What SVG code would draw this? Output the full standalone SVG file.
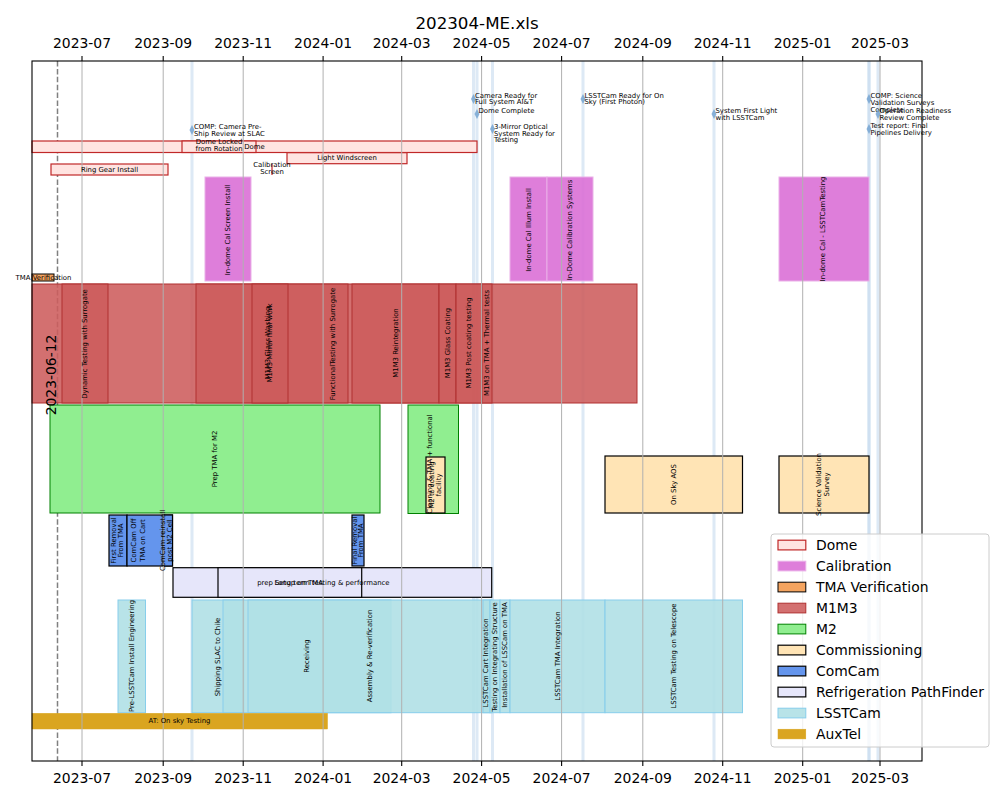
<svg xmlns="http://www.w3.org/2000/svg" width="1000" height="800" viewBox="0 0 1000 800">
<style>
text{font-family:"DejaVu Sans","Liberation Sans",sans-serif;fill:#000}
.tick{font-size:13.9px;text-anchor:middle}
.grid{stroke:#b0b0b0;stroke-width:1}
.msl{stroke:#c6dbef;stroke-width:3;stroke-opacity:0.6}
.s{font-size:6.9px;text-anchor:middle;dominant-baseline:central}
.m{font-size:6.9px;dominant-baseline:central}
.dome{fill:#ffe4e1;stroke:#c02828;stroke-width:1.2}
.cal{fill:#da70d6;fill-opacity:0.9;stroke:#eab0e8;stroke-width:1}
.tma{fill:#f4a460;stroke:#000;stroke-width:1}
.m1{fill:#cd5c5c;fill-opacity:0.88;stroke:#b03030;stroke-width:1}
.m2{fill:#90ee90;stroke:#008000;stroke-width:1}
.com{fill:#ffe4b5;stroke:#000;stroke-width:1.2}
.cc{fill:#6495ed;stroke:#000;stroke-width:1.2}
.ref{fill:#e6e6fa;stroke:#000;stroke-width:1.2}
.lc{fill:#b0e0e6;fill-opacity:0.9;stroke:#87ceeb;stroke-width:1}
.aux{fill:#daa520;stroke:#daa520;stroke-width:0.5}
.dia{fill:#6fa0d0;fill-opacity:0.8}
.leg{font-size:13.9px;dominant-baseline:central}
</style>
<rect width="1000" height="800" fill="#fff"/>
<text x="477" y="29" style="font-size:16.7px;text-anchor:middle">202304-ME.xls</text>

<g id="milestone-lines">
<line class="msl" x1="192" y1="61" x2="192" y2="761"/>
<line class="msl" x1="473.5" y1="61" x2="473.5" y2="761"/>
<line class="msl" x1="477" y1="61" x2="477" y2="761"/>
<line class="msl" x1="492.5" y1="61" x2="492.5" y2="761"/>
<line class="msl" x1="583" y1="61" x2="583" y2="761"/>
<line class="msl" x1="714" y1="61" x2="714" y2="761"/>
<line class="msl" x1="869" y1="61" x2="869" y2="761"/>
<line class="msl" x1="869" y1="61" x2="869" y2="761"/>
<line class="msl" x1="878" y1="61" x2="878" y2="761"/>
</g>
<line id="today-line" x1="57.5" y1="61" x2="57.5" y2="761" stroke="#808080" stroke-width="1.5" stroke-dasharray="5.5,2.4"/>

<g id="bars">
<g id="dome-bars">
<rect id="dome" class="dome" x="32" y="141" width="445" height="11.5"/>
<rect id="dome-locked" class="dome" x="182" y="141" width="74" height="11.5"/>
<rect id="light-windscreen" class="dome" x="287" y="152.7" width="120" height="11"/>
<rect id="ring-gear" class="dome" x="51" y="164" width="117" height="11"/>
<line id="calibration-screen" x1="272" y1="164" x2="272" y2="175" stroke="#c02828" stroke-width="1.2"/>
</g>
<g id="calibration-bars">
<rect id="cal-screen" class="cal" x="205" y="177" width="46" height="104"/>
<rect id="cal-illum" class="cal" x="510" y="177" width="37" height="104"/>
<rect id="cal-systems" class="cal" x="547" y="177" width="46" height="104"/>
<rect id="cal-lsstcam" class="cal" x="779" y="177" width="90" height="104"/>
</g>
<rect id="tma-verification" class="tma" x="32" y="274" width="22" height="7"/>
<g id="m1m3-bars">
<rect class="m1" x="32" y="284" width="605" height="119"/>
<rect class="m1" x="62" y="284" width="46" height="119"/>
<rect class="m1" x="196" y="284" width="152" height="119"/>
<rect class="m1" x="252" y="284" width="36" height="119"/>
<rect class="m1" x="352" y="284" width="87" height="119"/>
<rect class="m1" x="439" y="284" width="17" height="119"/>
<rect class="m1" x="456" y="284" width="26" height="119"/>
<rect class="m1" x="482" y="284" width="10" height="119"/>
</g>
<g id="m2-bars">
<rect class="m2" x="50" y="405" width="330" height="108"/>
<rect class="m2" x="408" y="405" width="50.5" height="108.5"/>
</g>
<g id="commissioning-bars">
<rect class="com" x="426" y="457" width="19" height="56"/>
<rect class="com" x="605" y="456" width="137.5" height="57"/>
<rect class="com" x="779" y="456" width="90" height="57"/>
</g>
<g id="comcam-bars">
<rect class="cc" x="109" y="515" width="18" height="51"/>
<rect class="cc" x="127" y="515" width="45.5" height="51"/>
<rect class="cc" x="163" y="515" width="9.5" height="51"/>
<rect class="cc" x="352" y="515" width="12" height="51"/>
</g>
<g id="refrigeration-bars">
<rect class="ref" x="173" y="567.7" width="318.7" height="29.6"/>
<rect class="ref" x="218" y="567.7" width="143.7" height="29.6"/>
</g>
<g id="lsstcam-bars">
<rect class="lc" x="118" y="600" width="27.5" height="112.7"/>
<rect class="lc" x="192" y="600" width="52" height="112.7"/>
<rect class="lc" x="223" y="600" width="168" height="112.7"/>
<rect class="lc" x="248" y="600" width="244" height="112.7"/>
<rect class="lc" x="483" y="600" width="7" height="112.7"/>
<rect class="lc" x="490" y="600" width="10" height="112.7"/>
<rect class="lc" x="500" y="600" width="10" height="112.7"/>
<rect class="lc" x="510" y="600" width="95" height="112.7"/>
<rect class="lc" x="605" y="600" width="137.5" height="112.7"/>
</g>
<rect id="auxtel" class="aux" x="32" y="713.3" width="295.5" height="15.7"/>
</g>

<g id="grid">
<line class="grid" x1="82" y1="61" x2="82" y2="761"/>
<line class="grid" x1="163.2" y1="61" x2="163.2" y2="761"/>
<line class="grid" x1="243.2" y1="61" x2="243.2" y2="761"/>
<line class="grid" x1="323.1" y1="61" x2="323.1" y2="761"/>
<line class="grid" x1="401.7" y1="61" x2="401.7" y2="761"/>
<line class="grid" x1="481.6" y1="61" x2="481.6" y2="761"/>
<line class="grid" x1="561.6" y1="61" x2="561.6" y2="761"/>
<line class="grid" x1="642.8" y1="61" x2="642.8" y2="761"/>
<line class="grid" x1="722.7" y1="61" x2="722.7" y2="761"/>
<line class="grid" x1="802.7" y1="61" x2="802.7" y2="761"/>
<line class="grid" x1="880" y1="61" x2="880" y2="761"/>
</g>

<g id="labels">
<g id="dome-labels">
<text class="s" x="254.5" y="146.8">Dome</text>
<text class="s" x="219" y="142.3">Dome Locked<tspan x="219" dy="7">from Rotation</tspan></text>
<text class="s" x="347" y="158.2">Light Windscreen</text>
<text class="s" x="109.5" y="169.5">Ring Gear Install</text>
<text class="s" x="272" y="165.3">Calibration<tspan x="272" dy="7">Screen</tspan></text>
</g>
<g id="calibration-labels">
<text class="s" transform="translate(228,230) rotate(-90)">In-dome Cal Screen Install</text>
<text class="s" transform="translate(528.5,230) rotate(-90)">In-dome Cal Illum Install</text>
<text class="s" transform="translate(570,230) rotate(-90)">In-Dome Calibration Systems</text>
<text class="s" transform="translate(823,229) rotate(-90)">In-dome Cal - LSSTCamTesting</text>
</g>
<text class="s" x="43.5" y="278">TMA Verification</text>
<g id="m1m3-labels">
<text class="s" transform="translate(85,344) rotate(-90)">Dynamic Testing with Surrogate</text>
<text class="s" transform="translate(268,343) rotate(-90)">M1M3 Glass Washing</text>
<text class="s" transform="translate(270,343) rotate(-90)">M1M3 Mirror final work</text>
<text class="s" transform="translate(333,344) rotate(-90)">FunctionalTesting with Surrogate</text>
<text class="s" transform="translate(395.5,343) rotate(-90)">M1M3 Reintegration</text>
<text class="s" transform="translate(447.5,343) rotate(-90)">M1M3 Glass Coating</text>
<text class="s" transform="translate(469,343) rotate(-90)">M1M3 Post coating testing</text>
<text class="s" transform="translate(487,343) rotate(-90)">M1M3 on TMA + Thermal tests</text>
</g>
<g id="m2-labels">
<text class="s" transform="translate(215,459) rotate(-90)">Prep TMA for M2</text>
<text class="s" transform="translate(430,464) rotate(-90)">Cleaning &amp; TMA + functional</text>
</g>
<g id="commissioning-labels">
<text class="s" transform="translate(435.5,485) rotate(-90)"><tspan x="0" dy="-3.5">M2 to coating</tspan><tspan x="0" dy="7">facility</tspan></text>
<text class="s" transform="translate(673.5,484.5) rotate(-90)">On Sky AOS</text>
<text class="s" transform="translate(823,484.5) rotate(-90)"><tspan x="0" dy="-4">Science Validation</tspan><tspan x="0" dy="8">Survey</tspan></text>
</g>
<g id="comcam-labels">
<text class="s" transform="translate(117.5,540.5) rotate(-90)"><tspan x="0" dy="-3.5">First Removal</tspan><tspan x="0" dy="7">From TMA</tspan></text>
<text class="s" transform="translate(138,540.5) rotate(-90)"><tspan x="0" dy="-4.5">ComCam Off</tspan><tspan x="0" dy="9">TMA on Cart</tspan></text>
<text class="s" transform="translate(166.5,540.5) rotate(-90)"><tspan x="0" dy="-3.5">ComCam reinstall</tspan><tspan x="0" dy="7">post M2 Cell</tspan></text>
<text class="s" transform="translate(358,540.5) rotate(-90)"><tspan x="0" dy="-3.3">Final Removal</tspan><tspan x="0" dy="6.6">From TMA</tspan></text>
</g>
<g id="refrigeration-labels">
<text class="s" x="332" y="582.5">Long term testing &amp; performance</text>
<text class="s" x="290" y="582.5">prep Setup on TMA</text>
</g>
<g id="lsstcam-labels">
<text class="s" transform="translate(131.5,656) rotate(-90)">Pre-LSSTCam Install Engineering</text>
<text class="s" transform="translate(218,657) rotate(-90)">Shipping SLAC to Chile</text>
<text class="s" transform="translate(307,656) rotate(-90)">Receiving</text>
<text class="s" transform="translate(370,656) rotate(-90)">Assembly &amp; Re-verification</text>
<text class="s" transform="translate(486,663) rotate(-90)">LSSTCam Cart Integration</text>
<text class="s" transform="translate(495,657) rotate(-90)">Testing on Integrating Structure</text>
<text class="s" transform="translate(505,655) rotate(-90)">Installation of LSSCam on TMA</text>
<text class="s" transform="translate(557.5,656) rotate(-90)">LSSTCam TMA Integration</text>
<text class="s" transform="translate(673.5,656) rotate(-90)">LSSTCam Testing on Telescope</text>
</g>
<text class="s" x="179.5" y="721.2">AT: On sky Testing</text>
<text transform="translate(56,375) rotate(-90)" style="font-size:13.9px;text-anchor:middle">2023-06-12</text>
</g>

<g id="milestones">
<polygon class="dia" points="192,125 194.5,130 192,135 189.5,130"/>
<text class="m" x="194" y="127.3">COMP: Camera Pre-<tspan x="194" dy="6.6">Ship Review at SLAC</tspan></text>
<polygon class="dia" points="473.5,94 476,99 473.5,104 471,99"/>
<text class="m" x="475" y="95.7">Camera Ready for<tspan x="475" dy="6.6">Full System AI&amp;T</tspan></text>
<polygon class="dia" points="477,109 479.5,114 477,119 474.5,114"/>
<text class="m" x="478.5" y="110.5">Dome Complete</text>
<polygon class="dia" points="492.5,124 495,129 492.5,134 490,129"/>
<text class="m" x="494" y="126.7">3-Mirror Optical<tspan x="494" dy="6.8">System Ready for</tspan><tspan x="494" dy="6.8">Testing</tspan></text>
<polygon class="dia" points="583,94 585.5,99 583,104 580.5,99"/>
<text class="m" x="584.5" y="95.7">LSSTCam Ready for On<tspan x="584.5" dy="6.6">Sky (First Photon)</tspan></text>
<polygon class="dia" points="714,109 716.5,114 714,119 711.5,114"/>
<text class="m" x="715.5" y="110.7">System First Light<tspan x="715.5" dy="7">with LSSTCam</tspan></text>
<polygon class="dia" points="869,94 871.5,99 869,104 866.5,99"/>
<text class="m" x="870.5" y="95.7">COMP: Science<tspan x="870.5" dy="7">Validation Surveys</tspan><tspan x="870.5" dy="7">Complete</tspan></text>
<polygon class="dia" points="878,109 880.5,114 878,119 875.5,114"/>
<text class="m" x="879.5" y="110.7">Operation Readiness<tspan x="879.5" dy="7">Review Complete</tspan></text>
<polygon class="dia" points="869,124 871.5,129 869,134 866.5,129"/>
<text class="m" x="870.5" y="126.3">Test report: Final<tspan x="870.5" dy="7">Pipelines Delivery</tspan></text>
</g>

<g id="axes">
<rect x="32" y="61" width="890" height="700" fill="none" stroke="#000" stroke-width="1.1"/>
<g stroke="#000" stroke-width="1.1">
<line x1="82" y1="61" x2="82" y2="56.1"/><line x1="163.2" y1="61" x2="163.2" y2="56.1"/><line x1="243.2" y1="61" x2="243.2" y2="56.1"/><line x1="323.1" y1="61" x2="323.1" y2="56.1"/><line x1="401.7" y1="61" x2="401.7" y2="56.1"/><line x1="481.6" y1="61" x2="481.6" y2="56.1"/><line x1="561.6" y1="61" x2="561.6" y2="56.1"/><line x1="642.8" y1="61" x2="642.8" y2="56.1"/><line x1="722.7" y1="61" x2="722.7" y2="56.1"/><line x1="802.7" y1="61" x2="802.7" y2="56.1"/><line x1="880" y1="61" x2="880" y2="56.1"/>
<line x1="82" y1="761" x2="82" y2="765.9"/><line x1="163.2" y1="761" x2="163.2" y2="765.9"/><line x1="243.2" y1="761" x2="243.2" y2="765.9"/><line x1="323.1" y1="761" x2="323.1" y2="765.9"/><line x1="401.7" y1="761" x2="401.7" y2="765.9"/><line x1="481.6" y1="761" x2="481.6" y2="765.9"/><line x1="561.6" y1="761" x2="561.6" y2="765.9"/><line x1="642.8" y1="761" x2="642.8" y2="765.9"/><line x1="722.7" y1="761" x2="722.7" y2="765.9"/><line x1="802.7" y1="761" x2="802.7" y2="765.9"/><line x1="880" y1="761" x2="880" y2="765.9"/>
</g>
<g>
<text class="tick" x="82" y="48">2023-07</text><text class="tick" x="163.2" y="48">2023-09</text><text class="tick" x="243.2" y="48">2023-11</text><text class="tick" x="323.1" y="48">2024-01</text><text class="tick" x="401.7" y="48">2024-03</text><text class="tick" x="481.6" y="48">2024-05</text><text class="tick" x="561.6" y="48">2024-07</text><text class="tick" x="642.8" y="48">2024-09</text><text class="tick" x="722.7" y="48">2024-11</text><text class="tick" x="802.7" y="48">2025-01</text><text class="tick" x="880" y="48">2025-03</text>
<text class="tick" x="82" y="783">2023-07</text><text class="tick" x="163.2" y="783">2023-09</text><text class="tick" x="243.2" y="783">2023-11</text><text class="tick" x="323.1" y="783">2024-01</text><text class="tick" x="401.7" y="783">2024-03</text><text class="tick" x="481.6" y="783">2024-05</text><text class="tick" x="561.6" y="783">2024-07</text><text class="tick" x="642.8" y="783">2024-09</text><text class="tick" x="722.7" y="783">2024-11</text><text class="tick" x="802.7" y="783">2025-01</text><text class="tick" x="880" y="783">2025-03</text>
</g>
</g>

<g id="legend">
<rect x="771" y="534" width="218" height="213" rx="3" fill="#fff" fill-opacity="0.8" stroke="#cccccc" stroke-width="1"/>
<rect class="dome" x="778" y="540.2" width="27.8" height="9.7"/><text class="leg" x="816" y="545">Dome</text>
<rect class="cal" x="778" y="561.2" width="27.8" height="9.7"/><text class="leg" x="816" y="566">Calibration</text>
<rect class="tma" x="778" y="582.2" width="27.8" height="9.7"/><text class="leg" x="816" y="587">TMA Verification</text>
<rect class="m1" x="778" y="603.2" width="27.8" height="9.7"/><text class="leg" x="816" y="608">M1M3</text>
<rect class="m2" x="778" y="624.2" width="27.8" height="9.7"/><text class="leg" x="816" y="629">M2</text>
<rect class="com" x="778" y="645.2" width="27.8" height="9.7"/><text class="leg" x="816" y="650">Commissioning</text>
<rect class="cc" x="778" y="666.2" width="27.8" height="9.7"/><text class="leg" x="816" y="671">ComCam</text>
<rect class="ref" x="778" y="687.2" width="27.8" height="9.7"/><text class="leg" x="816" y="692">Refrigeration PathFinder</text>
<rect class="lc" x="778" y="708.2" width="27.8" height="9.7"/><text class="leg" x="816" y="713">LSSTCam</text>
<rect class="aux" x="778" y="729.2" width="27.8" height="9.7"/><text class="leg" x="816" y="734">AuxTel</text>
</g>
</svg>
